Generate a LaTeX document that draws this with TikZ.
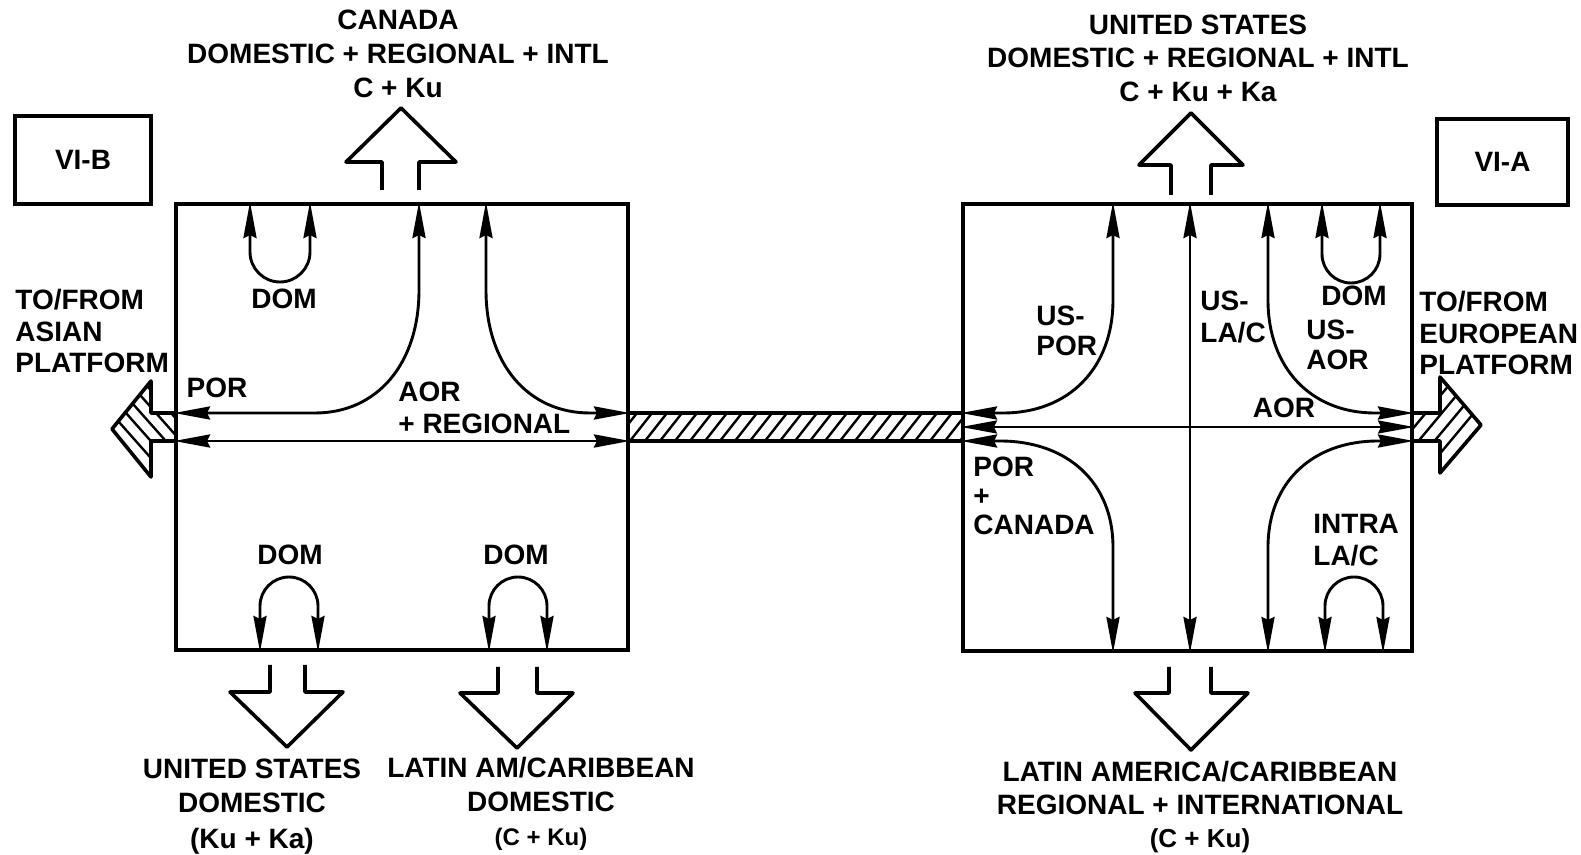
\documentclass[tikz,border=0pt]{standalone}
\usepackage{fontspec}
\setmainfont{Liberation Sans}
\usetikzlibrary{arrows.meta}
\begin{document}
\begin{tikzpicture}[x=0.5pt,y=-0.5pt,
  >={Stealth[length=18pt,width=6.5pt,inset=1.5pt]},
  lbl/.style={font=\bfseries\fontsize{14}{16}\selectfont, inner sep=0pt, align=center},
  lbll/.style={lbl, align=left, anchor=west},
  bigbox/.style={draw, line width=2pt, inner sep=0pt},
  tagbox/.style={draw, line width=1.7pt, inner sep=0pt, font=\bfseries\fontsize{14}{16}\selectfont},
  flow/.style={line width=1.45pt, <->},
  thinflow/.style={line width=1pt, <->},
  fatarrow/.style={line width=1.8pt, line join=round},
  hatchline/.style={line width=1.2pt}
]
\useasboundingbox (0,0) rectangle (1581,855);

% ---------- boxes ----------
\node[bigbox, minimum width=226pt, minimum height=223pt] (L) at (402,427) {};
\node[bigbox, minimum width=224.5pt, minimum height=223.5pt] (R) at (1187.5,427.5) {};
\node[tagbox, minimum width=68pt, minimum height=44pt] (vib) at (83,160) {VI-B};
\node[tagbox, minimum width=65.5pt, minimum height=43pt] (via) at (1502.5,162) {VI-A};

% ---------- hatched link bar ----------
\begin{scope}
  \clip (L.east |- 0,413) rectangle (R.west |- 0,441);
  \foreach \hx in {600,615,...,975} \draw[hatchline] (\hx,441) -- (\hx+22,413);
\end{scope}
\draw[line width=1.6pt] (L.east |- 0,413) -- (R.west |- 0,413);
\draw[line width=1.6pt] (L.east |- 0,441) -- (R.west |- 0,441);

% ---------- hatched side arrows ----------
\begin{scope}
  \clip (176,413) -- (151,413) -- (151,381) -- (112,429) -- (151,477) -- (151,441) -- (176,441) -- cycle;
  \foreach \hx in {64,79,...,139} \draw[hatchline] (\hx,360) -- (\hx+117,492);
\end{scope}
\draw[fatarrow] (L.west |- 0,413) -- (151,413) -- (151,381) -- (112,429) -- (151,477) -- (151,441) -- (L.west |- 0,441);

\begin{scope}
  \clip (1412,413) -- (1440,413) -- (1440,377) -- (1481,425) -- (1440,473) -- (1440,441) -- (1412,441) -- cycle;
  \foreach \hx in {1470,1486,...,1518} \draw[hatchline] (\hx,360) -- (\hx-120,504);
\end{scope}
\draw[fatarrow] (R.east |- 0,413) -- (1440,413) -- (1440,377) -- (1481,425) -- (1440,473) -- (1440,441) -- (R.east |- 0,441);

% ---------- outline up/down arrows ----------
\draw[fatarrow] (382,190) -- (382,162) -- (346,162) -- (401,108) -- (456,162) -- (419,162) -- (419,190);
\draw[fatarrow] (1171,195) -- (1171,165) -- (1139,165) -- (1191,113) -- (1243,165) -- (1211,165) -- (1211,195);
\draw[fatarrow] (270,665) -- (270,692) -- (230,692) -- (287,747) -- (343,692) -- (305,692) -- (305,665);
\draw[fatarrow] (498,667) -- (498,693) -- (460,693) -- (517,748) -- (573,693) -- (537,693) -- (537,667);
\draw[fatarrow] (1169,667) -- (1169,693) -- (1135,693) -- (1191,750) -- (1248,693) -- (1211,693) -- (1211,667);

% ---------- left box flows ----------
\draw[flow] (250,0 |- L.north) -- (250,252) .. controls (250,268.5) and (263.5,282) .. (280,282) .. controls (296.5,282) and (310,268.5) .. (310,252) -- (310,0 |- L.north);
\draw[flow] (419,0 |- L.north) -- (419,290) .. controls (419,364) and (377,413) .. (315,413) -- (L.west |- 0,413);
\draw[flow] (486,0 |- L.north) -- (486,290) .. controls (486,364) and (528,413) .. (590,413) -- (L.east |- 0,413);
\draw[flow] (L.west |- 0,441) -- (L.east |- 0,441);
\draw[flow] (260,0 |- L.south) -- (260,606) .. controls (260,590) and (273,577) .. (289,577) .. controls (305,577) and (318,590) .. (318,606) -- (318,0 |- L.south);
\draw[flow] (489,0 |- L.south) -- (489,606) .. controls (489,590) and (502,577) .. (518,577) .. controls (534,577) and (547,590) .. (547,606) -- (547,0 |- L.south);

% ---------- right box flows ----------
\draw[flow] (1322,0 |- R.north) -- (1322,254) .. controls (1322,270) and (1335,283) .. (1351,283) .. controls (1367,283) and (1380,270) .. (1380,254) -- (1380,0 |- R.north);
\draw[flow] (1113,0 |- R.north) -- (1113,300) .. controls (1113,368) and (1069,413) .. (1003,413) -- (R.west |- 0,413);
\draw[flow] (1190,0 |- R.north) -- (1190,0 |- R.south);
\draw[flow] (1268,0 |- R.north) -- (1268,300) .. controls (1268,368) and (1311,413) .. (1375,413) -- (R.east |- 0,413);
\draw[thinflow] (R.west |- 0,427) -- (R.east |- 0,427);
\draw[flow] (R.west |- 0,441) -- (1000,441) .. controls (1068,441) and (1113,483) .. (1113,547) -- (1113,0 |- R.south);
\draw[flow] (R.east |- 0,441) -- (1378,441) .. controls (1312,441) and (1268,483) .. (1268,547) -- (1268,0 |- R.south);
\draw[flow] (1325,0 |- R.south) -- (1325,606) .. controls (1325,590) and (1338,577) .. (1354,577) .. controls (1370,577) and (1383,590) .. (1383,606) -- (1383,0 |- R.south);

% ---------- labels ----------
\node[lbl, font=\bfseries\fontsize{14}{17}\selectfont] (canT) at (398,54) {CANADA\\DOMESTIC + REGIONAL + INTL\\C + Ku};
\node[lbl, font=\bfseries\fontsize{14}{16.75}\selectfont] (usT) at (1198,58) {UNITED STATES\\DOMESTIC + REGIONAL + INTL\\C + Ku + Ka};
\node[lbll, font=\bfseries\fontsize{14}{15.75}\selectfont] (asia) at (15,331) {TO/FROM\\ASIAN\\PLATFORM};
\node[lbll, font=\bfseries\fontsize{14}{15.75}\selectfont] (euro) at (1419,333) {TO/FROM\\EUROPEAN\\PLATFORM};

\node[lbl] (domA) at (284,299) {DOM};
\node[lbl] (porL) at (217,388) {POR};
\node[lbll] (aorreg) at (398,408) {AOR\\+ REGIONAL};
\node[lbl] (domB) at (290,555) {DOM};
\node[lbl] (domC) at (516,555) {DOM};

\node[lbll, font=\bfseries\fontsize{14}{15}\selectfont] (uspor) at (1036,331) {US-\\POR};
\node[lbll, font=\bfseries\fontsize{14}{16}\selectfont] (uslac) at (1200,317) {US-\\LA/C};
\node[lbl] (domD) at (1354,296) {DOM};
\node[lbll, font=\bfseries\fontsize{14}{15}\selectfont] (usaor) at (1306,345) {US-\\AOR};
\node[lbl] (aorR) at (1284,408) {AOR};
\node[lbll, font=\bfseries\fontsize{14}{14.5}\selectfont] (porcan) at (973,496) {POR\\+\\CANADA};
\node[lbll, font=\bfseries\fontsize{14}{16}\selectfont] (intra) at (1313,540) {INTRA\\LA/C};

\node[lbl, font=\bfseries\fontsize{14}{17}\selectfont] (usdom) at (252,807) {UNITED STATES\\DOMESTIC\\[1pt](Ku + Ka)};
\node[lbl, font=\bfseries\fontsize{14}{17}\selectfont] (ladom) at (541,804) {LATIN AM/CARIBBEAN\\DOMESTIC\\{\fontsize{12}{14}\selectfont (C + Ku)}};
\node[lbl, font=\bfseries\fontsize{14}{16.5}\selectfont] (lareg) at (1200,807) {LATIN AMERICA/CARIBBEAN\\REGIONAL + INTERNATIONAL\\{\fontsize{13}{15}\selectfont (C + Ku)}};
\end{tikzpicture}
\end{document}
